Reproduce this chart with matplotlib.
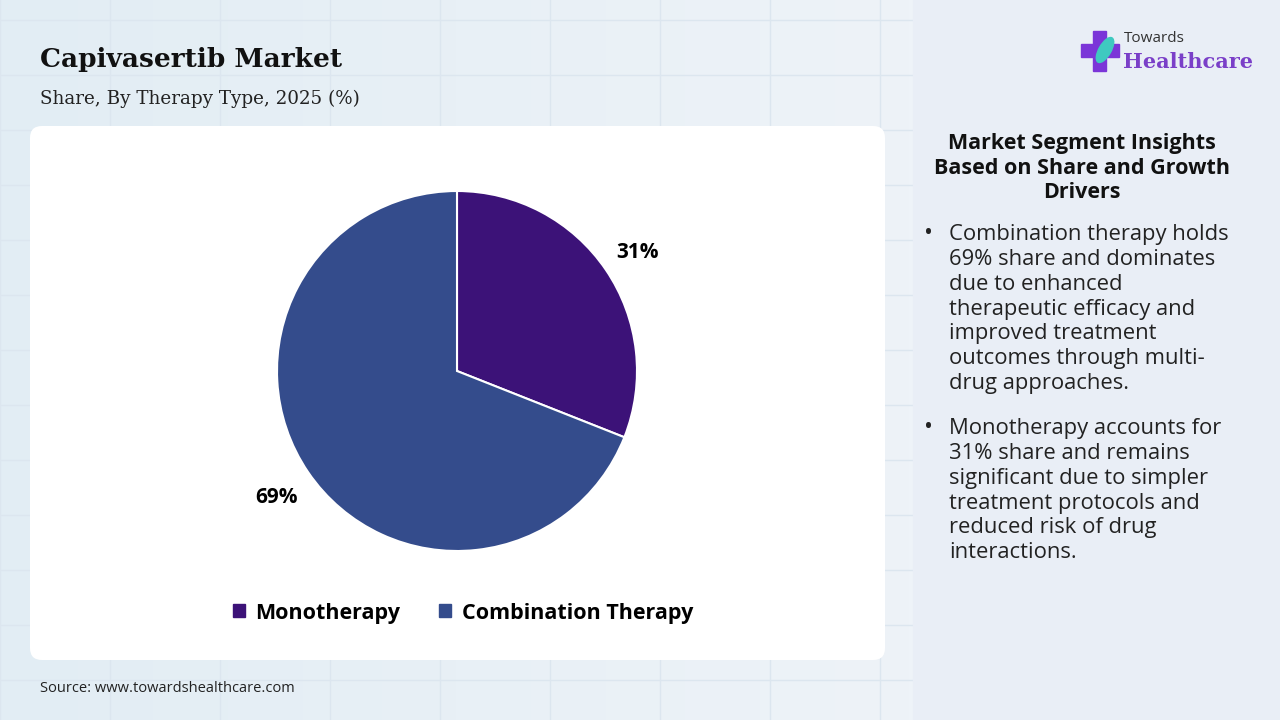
import matplotlib
matplotlib.use("Agg")
import matplotlib.pyplot as plt
from matplotlib.patches import FancyBboxPatch, Rectangle, Ellipse
from matplotlib.colors import LinearSegmentedColormap
import numpy as np

categories = ["Monotherapy", "Combination Therapy"]
shares = [31, 69]
colors = ["#3C1278", "#344C8C"]
title = "Capivasertib Market"
subtitle = "Share, By Therapy Type, 2025 (%)"
source = "Source: www.towardshealthcare.com"
panel_title = "Market Segment Insights\nBased on Share and Growth\nDrivers"
bullets = [
    "Combination therapy holds\n69% share and dominates\ndue to enhanced\ntherapeutic efficacy and\nimproved treatment\noutcomes through multi-\ndrug approaches.",
    "Monotherapy accounts for\n31% share and remains\nsignificant due to simpler\ntreatment protocols and\nreduced risk of drug\ninteractions.",
]

W, H = 1280, 720
fig = plt.figure(figsize=(12.8, 7.2), dpi=100)
bg = fig.add_axes([0, 0, 1, 1])
bg.set_xlim(0, W); bg.set_ylim(H, 0); bg.axis("off")

# background gradient
grad = np.linspace(0, 1, 256).reshape(1, -1)
cmap = LinearSegmentedColormap.from_list("g", ["#E2EDF4", "#EEF3F8"])
bg.imshow(grad, extent=[0, 913, H, 0], cmap=cmap, aspect="auto", zorder=0)
for gx in range(0, 913, 110):
    bg.plot([gx, gx], [0, H], color="#DCE6EF", lw=1, zorder=1)
for gy in range(20, H, 55):
    bg.plot([0, 913], [gy, gy], color="#DCE6EF", lw=1, zorder=1)
bg.add_patch(Rectangle((913, 0), W - 913, H, color="#E9EEF6", zorder=1))

# card
bg.add_patch(FancyBboxPatch((30, 126), 855, 534, boxstyle="round,pad=0,rounding_size=12",
                            fc="white", ec="none", zorder=2))

bg.text(40, 60, title, fontsize=19, fontweight="bold", family="DejaVu Serif",
        va="center", ha="left", color="#111111", zorder=3)
bg.text(40, 99, subtitle, fontsize=13.2, family="DejaVu Serif",
        va="center", ha="left", color="#222222", zorder=3)
bg.text(40, 689, source, fontsize=10.5, family="Open Sans",
        va="center", ha="left", color="#222222", zorder=3)

# logo
bg.add_patch(Rectangle((1093, 31), 13, 40, color="#7B35D8", zorder=3))
bg.add_patch(Rectangle((1081, 44), 38, 13, color="#7B35D8", zorder=3))
bg.add_patch(Ellipse((1105, 50), 12, 28, angle=30, color="#3FC9C0", zorder=4))
bg.text(1124, 38, "Towards", fontsize=11, family="Open Sans", color="#333333",
        va="center", ha="left", zorder=3)
bg.text(1123, 62, "Healthcare", fontsize=15, fontweight="bold", family="DejaVu Serif",
        color="#7A3FC8", va="center", ha="left", zorder=3)

# right panel
bg.text(1082, 168, panel_title, fontsize=15.5, fontweight="bold", family="Open Sans",
        ha="center", va="center", linespacing=1.25, color="#111111", zorder=3)
ys = [234, 428]
for b, y in zip(bullets, ys):
    bg.text(924, y, "\u2022", fontsize=17, family="Open Sans", va="center", ha="left", color="#222222", zorder=3)
    bg.text(949, y - 10, b, fontsize=15.8, family="Open Sans", va="top", ha="left",
            linespacing=1.24, color="#222222", zorder=3)

# pie
r = 180
cx, cy = 457, 371
pax = fig.add_axes([(cx - r) / W, 1 - (cy + r) / H, 2 * r / W, 2 * r / H])
wedges, _ = pax.pie(shares, colors=colors, startangle=90, counterclock=False,
                    wedgeprops=dict(edgecolor="white", linewidth=1.5))
pax.set_aspect("auto")
pax.set_xlim(-1, 1); pax.set_ylim(-1, 1)
start = 90
for s in shares:
    mid = start - s * 3.6 / 2
    start -= s * 3.6
    rr = 1.21
    pax.text(rr * np.cos(np.radians(mid)), rr * np.sin(np.radians(mid)) - 0.02, f"{s}%",
             fontsize=15, fontweight="bold", family="Open Sans", ha="center", va="center",
             clip_on=False)

# legend
handles = [Rectangle((0, 0), 1, 1, color=c) for c in colors]
fig.legend(handles, categories, loc="center", bbox_to_anchor=(463 / W, 1 - 613 / H),
           ncol=2, frameon=False, prop=dict(family="Open Sans", weight="bold", size=15.5),
           handlelength=0.55, handleheight=0.55, handletextpad=0.5, columnspacing=1.8)

fig.savefig("out.png", dpi=100)
